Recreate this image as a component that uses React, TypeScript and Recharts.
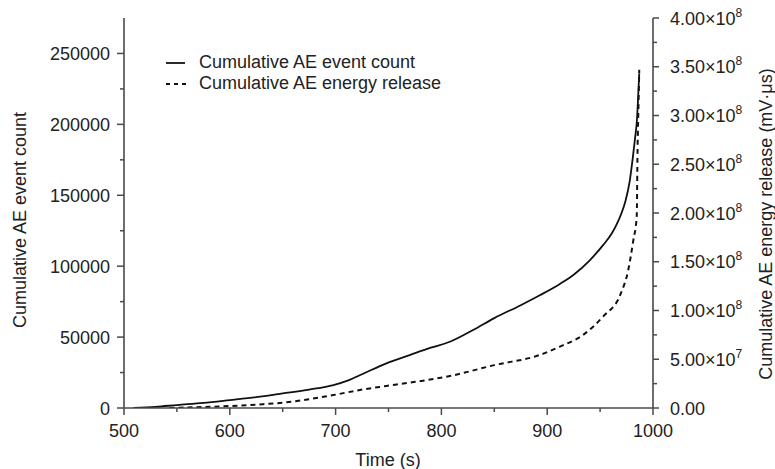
import { ComposedChart, Line, XAxis, YAxis, Legend, Label } from "recharts";

if (typeof document !== "undefined") document.body.style.margin = "0";

// cumulative AE event count (left axis)
const countTimes = [509, 530, 550, 575, 600, 625, 650, 675, 698, 712, 725, 748, 770, 790, 808, 830, 850, 875, 893, 912, 925, 940, 953, 961, 966, 970, 974, 978, 981, 983, 985, 986, 987];
const countValues = [0, 800, 2100, 3600, 5600, 7700, 10300, 13000, 16200, 19500, 23800, 31500, 37300, 42500, 46700, 55000, 63400, 72500, 79500, 87500, 94000, 104000, 115000, 123000, 130000, 137000, 146000, 160000, 177000, 190000, 205000, 220000, 236000];

// cumulative AE energy release (right axis, mV·μs)
const energyTimes = [543, 575, 600, 625, 650, 675, 698, 723, 748, 770, 808, 850, 893, 912, 934, 953, 969, 976.7, 981.4, 984.6, 985.4, 986.4, 987];
const energyValues = [0, 1000000, 2000000, 3500000, 5400000, 9000000, 13300000, 18500000, 22600000, 26000000, 32800000, 44000000, 54400000, 63000000, 75000000, 94000000, 116000000, 142000000, 172000000, 196000000, 265000000, 316000000, 347000000];

const xTicks = [500, 550, 600, 650, 700, 750, 800, 850, 900, 950, 1000];
const leftTicks = [0, 25000, 50000, 75000, 100000, 125000, 150000, 175000, 200000, 225000, 250000];
const rightTicks = [0, 2.5e7, 5e7, 7.5e7, 1e8, 1.25e8, 1.5e8, 1.75e8, 2e8, 2.25e8, 2.5e8, 2.75e8, 3e8, 3.25e8, 3.5e8, 3.75e8, 4e8];

const countData = countTimes.map((t, i) => ({ t, count: countValues[i] }));
const energyData = energyTimes.map((t, i) => ({ t, energy: energyValues[i] }));

const FONT = "'Liberation Sans', Arial, sans-serif";
const TEXT = "#222";
const AXIS = "#4a4a4a";

const BottomTick = ({ x, y, payload }: any) => {
  const major = payload.value % 100 === 0;
  return (
    <g>
      <line x1={x} x2={x} y1={y} y2={y + (major ? 7 : 4)} stroke={AXIS} strokeWidth={1.5} />
      {major && (
        <text x={x} y={y + 29} textAnchor="middle" fontSize={18} fontFamily={FONT} fill={TEXT}>
          {payload.value}
        </text>
      )}
    </g>
  );
};

const TopTick = ({ x, y, payload }: any) => {
  const major = payload.value % 100 === 0;
  return <line x1={x} x2={x} y1={y} y2={y + (major ? 6 : 4)} stroke={AXIS} strokeWidth={1.5} />;
};

const LeftTick = ({ x, y, payload }: any) => {
  const major = payload.value % 50000 === 0;
  return (
    <g>
      <line x1={x - (major ? 7 : 4)} x2={x} y1={y} y2={y} stroke={AXIS} strokeWidth={1.5} />
      {major && (
        <text x={x - 14} y={y + 6.5} textAnchor="end" fontSize={18} fontFamily={FONT} fill={TEXT}>
          {payload.value}
        </text>
      )}
    </g>
  );
};

const RightTick = ({ x, y, payload }: any) => {
  const v = payload.value;
  const major = Math.round(v / 5e7) * 5e7 === v;
  let label = null;
  if (major) {
    if (v === 0) {
      label = <tspan>0.00</tspan>;
    } else {
      const exp = Math.floor(Math.log10(v));
      const mant = (v / Math.pow(10, exp)).toFixed(2);
      label = (
        <>
          <tspan>{`${mant}×10`}</tspan>
          <tspan dy={-8} fontSize={12}>{exp}</tspan>
        </>
      );
    }
  }
  return (
    <g>
      <line x1={x} x2={x + (major ? 6 : 4)} y1={y} y2={y} stroke={AXIS} strokeWidth={1.5} />
      {major && (
        <text x={x + 17} y={y + 6.5} textAnchor="start" fontSize={18} fontFamily={FONT} fill={TEXT}>
          {label}
        </text>
      )}
    </g>
  );
};

const LegendBox = () => (
  <div style={{ fontFamily: FONT, fontSize: 18, color: TEXT, lineHeight: "21px" }}>
    <div style={{ display: "flex", alignItems: "center" }}>
      <svg width={33} height={21}>
        <line x1={0} x2={19} y1={11} y2={11} stroke="#111" strokeWidth={1.8} />
      </svg>
      <span>Cumulative AE event count</span>
    </div>
    <div style={{ display: "flex", alignItems: "center" }}>
      <svg width={33} height={21}>
        <line x1={0} x2={21} y1={11} y2={11} stroke="#111" strokeWidth={1.8} strokeDasharray="4 4" />
      </svg>
      <span>Cumulative AE energy release</span>
    </div>
  </div>
);

export default function App() {
  return (
    <div style={{ width: 775, height: 469, background: "#fff" }}>
      <ComposedChart width={775} height={469} margin={{ top: 18, right: 0, bottom: 0, left: 0 }}>
        <XAxis
          xAxisId="bottom"
          dataKey="t"
          type="number"
          domain={[500, 1000]}
          ticks={xTicks}
          interval={0}
          height={61}
          tickSize={0}
          tickMargin={0}
          tickLine={false}
          tick={<BottomTick />}
          axisLine={{ stroke: AXIS, strokeWidth: 1.6 }}
          allowDataOverflow
        >
          <Label
            content={() => (
              <text x={388} y={466} textAnchor="middle" fontSize={18} fontFamily={FONT} fill={TEXT}>
                Time (s)
              </text>
            )}
          />
        </XAxis>
        <XAxis
          xAxisId="top"
          orientation="top"
          dataKey="t"
          type="number"
          domain={[500, 1000]}
          ticks={xTicks}
          interval={0}
          height={0}
          tickSize={0}
          tickMargin={0}
          tickLine={false}
          tick={<TopTick />}
          axisLine={{ stroke: AXIS, strokeWidth: 1.6 }}
          allowDataOverflow
        />
        <YAxis
          yAxisId="left"
          type="number"
          domain={[0, 275000]}
          ticks={leftTicks}
          interval={0}
          width={124}
          tickSize={0}
          tickMargin={0}
          tickLine={false}
          tick={<LeftTick />}
          axisLine={{ stroke: AXIS, strokeWidth: 1.6 }}
          allowDataOverflow
        >
          <Label
            content={() => (
              <text
                x={26}
                y={220}
                transform="rotate(-90 26 220)"
                textAnchor="middle"
                fontSize={18}
                fontFamily={FONT}
                fill={TEXT}
              >
                Cumulative AE event count
              </text>
            )}
          />
        </YAxis>
        <YAxis
          yAxisId="right"
          orientation="right"
          type="number"
          domain={[0, 4e8]}
          ticks={rightTicks}
          interval={0}
          width={122}
          tickSize={0}
          tickMargin={0}
          tickLine={false}
          tick={<RightTick />}
          axisLine={{ stroke: AXIS, strokeWidth: 1.6 }}
          allowDataOverflow
        >
          <Label
            content={() => (
              <text
                x={772}
                y={224}
                transform="rotate(-90 772 224)"
                textAnchor="middle"
                fontSize={18}
                fontFamily={FONT}
                fill={TEXT}
              >
                Cumulative AE energy release (mV·μs)
              </text>
            )}
          />
        </YAxis>
        <Legend
          layout="vertical"
          align="center"
          verticalAlign="middle"
          content={<LegendBox />}
          wrapperStyle={{ left: 166, top: 52, width: 300 }}
        />
        <Line
          data={countData}
          xAxisId="bottom"
          yAxisId="left"
          dataKey="count"
          type="monotone"
          stroke="#111"
          strokeWidth={1.8}
          dot={false}
          isAnimationActive={false}
        />
        <Line
          data={energyData}
          xAxisId="bottom"
          yAxisId="right"
          dataKey="energy"
          type="monotone"
          stroke="#111"
          strokeWidth={2}
          strokeDasharray="5 4"
          dot={false}
          isAnimationActive={false}
        />
      </ComposedChart>
    </div>
  );
}
